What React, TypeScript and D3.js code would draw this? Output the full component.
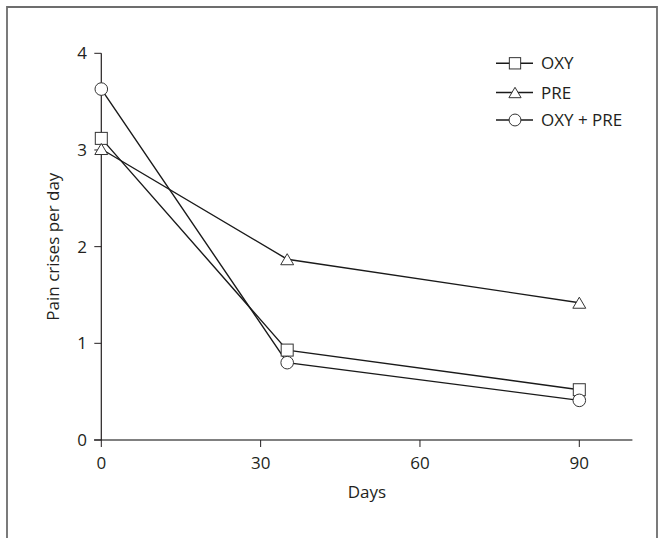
import React from "react";
import * as d3 from "d3";

const days = [0, 35, 90];
const oxy = [3.12, 0.93, 0.52];
const pre = [3.01, 1.87, 1.42];
const oxyPre = [3.63, 0.8, 0.41];
const xTicks = [0, 30, 60, 90];
const yTicks = [0, 1, 2, 3, 4];
const seriesNames = ["OXY", "PRE", "OXY + PRE"];
const seriesShapes = ["square", "triangle", "circle"];

const W = 663;
const H = 538;
const FONT = "'Open Sans', 'Noto Sans', sans-serif";
const TXT = "#231f20";

function Marker({ shape, x, y, s }: { shape: string; x: number; y: number; s: number }) {
  const common = { fill: "#fff", stroke: "#333", strokeWidth: 1 };
  if (shape === "square") {
    return <rect x={x - s / 2} y={y - s / 2} width={s} height={s} {...common} />;
  }
  if (shape === "circle") {
    return <circle cx={x} cy={y} r={s / 2 + 0.3} {...common} />;
  }
  const h = s * 0.92;
  const w = s * 1.08;
  const p = `M${x},${y - h / 2}L${x + w / 2},${y + h / 2}L${x - w / 2},${y + h / 2}Z`;
  return <path d={p} {...common} />;
}

export default function App() {
  const x = d3.scaleLinear().domain([0, 90]).range([101.3, 579.3]);
  const y = d3.scaleLinear().domain([0, 4]).range([440, 53.3]);
  const xEnd = x(100);
  const line = d3
    .line<[number, number]>()
    .x((d) => x(d[0]))
    .y((d) => y(d[1]));
  const series = [oxy, pre, oxyPre];
  const legendY = [63.3, 92.5, 120];

  return (
    <svg
      width={W}
      height={H}
      style={{ position: "absolute", left: 0, top: 0, background: "#fff" }}
      fontFamily={FONT}
    >
      {/* frame */}
      <path d={`M7,${H}L7,7L657,7L657,${H}`} fill="none" stroke="#6d6d6d" strokeWidth={1.8} />

      {/* x axis */}
      <line x1={94} x2={xEnd} y1={y(0)} y2={y(0)} stroke="#808080" strokeWidth={2} />
      {xTicks.map((t) => (
        <g key={`xt${t}`}>
          <line x1={x(t)} x2={x(t)} y1={y(0)} y2={y(0) + 7} stroke="#231f20" strokeWidth={1} />
          <text x={x(t)} y={469} textAnchor="middle" fontSize={17} fill={TXT}>
            {t}
          </text>
        </g>
      ))}
      <text x={(x(0) + xEnd) / 2} y={498} textAnchor="middle" fontSize={17} fill={TXT}>
        Days
      </text>

      {/* y axis */}
      <line x1={x(0)} x2={x(0)} y1={y(0)} y2={y(4)} stroke="#231f20" strokeWidth={1.2} />
      {yTicks.map((t) => (
        <g key={`yt${t}`}>
          <line x1={x(0) - 7} x2={x(0)} y1={y(t)} y2={y(t)} stroke="#231f20" strokeWidth={1} />
          <text x={87} y={y(t) + 6} textAnchor="end" fontSize={17} fill={TXT}>
            {t}
          </text>
        </g>
      ))}
      <text
        transform={`translate(59,${(y(0) + y(4)) / 2}) rotate(-90)`}
        textAnchor="middle"
        fontSize={17}
        fill={TXT}
      >
        Pain crises per day
      </text>

      {/* lines */}
      {series.map((vals, i) => (
        <path
          key={`l${i}`}
          d={line(days.map((d, j) => [d, vals[j]] as [number, number])) || ""}
          fill="none"
          stroke="#1a1a1a"
          strokeWidth={1.4}
        />
      ))}
      {/* markers */}
      {series.map((vals, i) =>
        days.map((d, j) => (
          <Marker key={`m${i}-${j}`} shape={seriesShapes[i]} x={x(d)} y={y(vals[j])} s={12} />
        ))
      )}

      {/* legend */}
      {seriesNames.map((n, i) => (
        <g key={`lg${i}`}>
          <line x1={496} x2={533} y1={legendY[i]} y2={legendY[i]} stroke="#1a1a1a" strokeWidth={1.4} />
          <Marker shape={seriesShapes[i]} x={515} y={legendY[i]} s={11.3} />
          <text x={541} y={legendY[i] + 6} fontSize={17} fill={TXT}>
            {n}
          </text>
        </g>
      ))}
    </svg>
  );
}
